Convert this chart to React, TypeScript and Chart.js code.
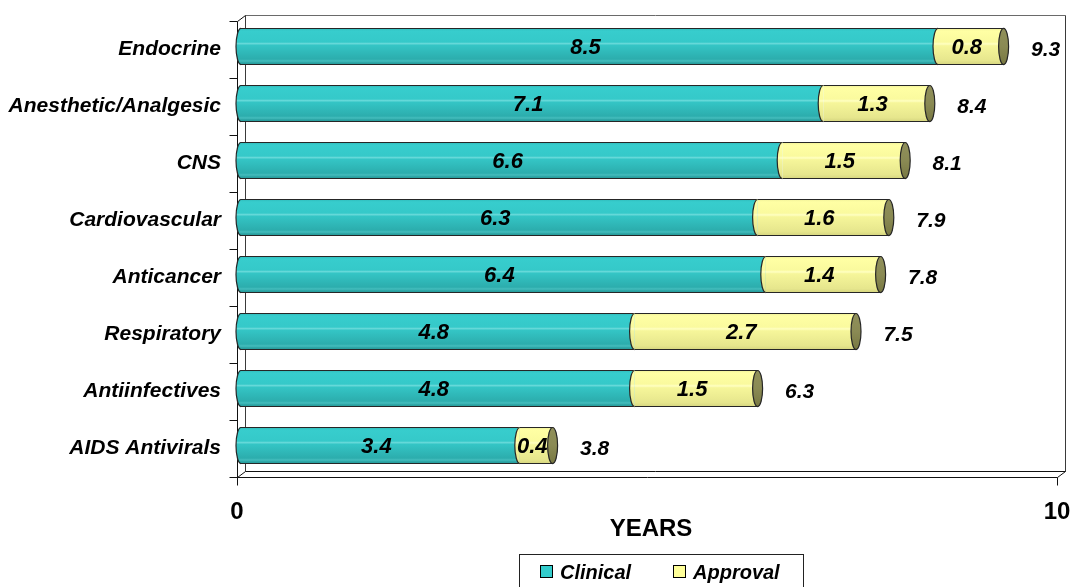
import React, { useEffect, useRef } from 'react';
import { Chart, registerables } from 'chart.js';

Chart.register(...registerables);

// ---------- data ----------
const categories = [
  'Endocrine',
  'Anesthetic/Analgesic',
  'CNS',
  'Cardiovascular',
  'Anticancer',
  'Respiratory',
  'Antiinfectives',
  'AIDS Antivirals',
];
const clinical = [8.5, 7.1, 6.6, 6.3, 6.4, 4.8, 4.8, 3.4];
const approval = [0.8, 1.3, 1.5, 1.6, 1.4, 2.7, 1.5, 0.4];
const totals = [9.3, 8.4, 8.1, 7.9, 7.8, 7.5, 6.3, 3.8];
const xTickValues = [0, 10];
const seriesLabels = ['Clinical', 'Approval'];
const axisTitle = 'YEARS';

// ---------- styling ----------
const FONT = "'Liberation Sans', Arial, Helvetica, sans-serif";
const DX = 4; // half depth of the 3D effect (x)
const DY = 3; // half depth of the 3D effect (y)
const BAR_PCT = 0.65;
const RX = 5; // cylinder ellipse x-radius
const LEGEND_COLORS = ['#33CCCC', '#FFFF99'];

const TEAL_STOPS: [number, string][] = [
  [0, '#2FB8B8'],
  [0.08, '#37CDCD'],
  [0.38, '#35C9C9'],
  [0.42, '#66D9D9'],
  [0.47, '#34C5C5'],
  [0.84, '#2CADAD'],
  [0.89, '#44BDBD'],
  [0.94, '#2AA3A3'],
  [1, '#269696'],
];
const YELLOW_STOPS: [number, string][] = [
  [0, '#EEEE96'],
  [0.08, '#FFFFA4'],
  [0.38, '#FAFA9E'],
  [0.43, '#FFFFC2'],
  [0.48, '#F6F69A'],
  [0.88, '#E6E68D'],
  [1, '#D4D47E'],
];

function gradientFill(stops: [number, string][], fallback: string) {
  return (ctx: any) => {
    const chart = ctx.chart;
    const ys = chart.scales && chart.scales.y;
    if (!chart.chartArea || !ys || ctx.dataIndex == null) return fallback;
    const c = ys.getPixelForValue(ctx.dataIndex);
    const half = ((chart.chartArea.bottom - chart.chartArea.top) / categories.length) * BAR_PCT / 2;
    const g = chart.ctx.createLinearGradient(0, c - half, 0, c + half);
    stops.forEach(([o, col]) => g.addColorStop(o, col));
    return g;
  };
}

const px = (v: number) => Math.round(v) + 0.5;

function line(ctx: CanvasRenderingContext2D, x1: number, y1: number, x2: number, y2: number) {
  ctx.beginPath();
  ctx.moveTo(x1, y1);
  ctx.lineTo(x2, y2);
  ctx.stroke();
}

const threeDPlugin = {
  id: 'threeD',
  beforeDatasetsDraw(chart: any) {
    const { ctx, chartArea: a } = chart;
    const fL = px(a.left - DX), fR = px(a.right - DX), fT = px(a.top + DY), fB = px(a.bottom + DY);
    const bL = px(a.left + DX), bR = px(a.right + DX), bT = px(a.top - DY), bB = px(a.bottom - DY);
    ctx.save();
    ctx.lineWidth = 1;
    // back wall
    ctx.strokeStyle = '#6a6a6a';
    line(ctx, bL, bT, bR, bT);
    ctx.strokeStyle = '#3a3a3a';
    line(ctx, bR, bT, bR, bB);
    line(ctx, bL, bT, bL, bB);
    // floor
    ctx.strokeStyle = '#111';
    line(ctx, bL, bB, bR, bB);
    line(ctx, fL, fB, fR, fB);
    line(ctx, fL, fB, bL, bB);
    line(ctx, fR, fB, bR, bB);
    // front category axis line
    line(ctx, fL, fT, fL, fB);
    line(ctx, fL, fT, bL, bT);
    // category tick marks
    const step = (a.bottom - a.top) / categories.length;
    for (let i = 0; i <= categories.length; i++) {
      const y = px(a.top + DY + i * step);
      line(ctx, fL - 8, y, fL, y);
    }
    // x tick marks
    const xs = chart.scales.x;
    xTickValues.forEach((v) => {
      const x = px(xs.getPixelForValue(v) - DX);
      line(ctx, x, fB, x, fB + 8);
    });
    ctx.restore();
  },
  afterDatasetsDraw(chart: any) {
    const { ctx } = chart;
    const n = chart.data.datasets.length;
    ctx.save();
    ctx.lineWidth = 1.2;
    ctx.strokeStyle = '#262626';
    // left ends of every segment (elliptical edges)
    for (let d = 0; d < n; d++) {
      const meta = chart.getDatasetMeta(d);
      meta.data.forEach((el: any) => {
        const { y, base, height } = el.getProps(['y', 'base', 'height'], true);
        const half = height / 2;
        ctx.beginPath();
        ctx.ellipse(base, y, RX, half, 0, Math.PI / 2, Math.PI * 1.5);
        ctx.closePath();
        ctx.fillStyle = el.options.backgroundColor;
        ctx.fill();
        ctx.beginPath();
        ctx.ellipse(base, y, RX, half - 0.5, 0, Math.PI / 2, Math.PI * 1.5);
        ctx.stroke();
      });
    }
    // right end caps of the last segment
    const lastMeta = chart.getDatasetMeta(n - 1);
    lastMeta.data.forEach((el: any) => {
      const { x, y, height } = el.getProps(['x', 'y', 'height'], true);
      const half = height / 2;
      const g = ctx.createLinearGradient(0, y - half, 0, y + half);
      g.addColorStop(0, '#90905A');
      g.addColorStop(0.5, '#8A8A54');
      g.addColorStop(1, '#787842');
      ctx.beginPath();
      ctx.ellipse(x, y, RX, half - 0.5, 0, 0, Math.PI * 2);
      ctx.fillStyle = g;
      ctx.fill();
      ctx.stroke();
    });
    // value labels inside segments
    ctx.fillStyle = '#000';
    ctx.textAlign = 'center';
    ctx.textBaseline = 'middle';
    ctx.font = `italic bold 22px ${FONT}`;
    for (let d = 0; d < n; d++) {
      const meta = chart.getDatasetMeta(d);
      const data = chart.data.datasets[d].data as number[];
      meta.data.forEach((el: any, i: number) => {
        const { x, y, base } = el.getProps(['x', 'y', 'base'], true);
        ctx.fillText(data[i].toFixed(1), (x + base) / 2 - 4, y + 1);
      });
    }
    // totals to the right
    ctx.font = `italic bold 21px ${FONT}`;
    lastMeta.data.forEach((el: any, i: number) => {
      const { x, y } = el.getProps(['x', 'y'], true);
      ctx.fillText(totals[i].toFixed(1), x + 42, y + 4);
    });
    ctx.restore();
  },
  afterDraw(chart: any) {
    const { ctx } = chart;
    const xs = chart.scales.x;
    ctx.save();
    ctx.fillStyle = '#000';
    // x tick labels (front plane)
    ctx.font = `bold 24px ${FONT}`;
    ctx.textAlign = 'center';
    ctx.textBaseline = 'alphabetic';
    xTickValues.forEach((v) => {
      ctx.fillText(String(v), xs.getPixelForValue(v) - DX, 519);
    });
    // legend
    ctx.lineWidth = 1;
    ctx.strokeStyle = '#222';
    ctx.strokeRect(519.5, 554.5, 284, 60);
    const itemX = [540, 673];
    ctx.font = `italic bold 20px ${FONT}`;
    ctx.textAlign = 'left';
    chart.data.datasets.forEach((ds: any, i: number) => {
      const x = itemX[i];
      ctx.fillStyle = LEGEND_COLORS[i];
      ctx.fillRect(x + 0.5, 565.5, 12, 12);
      ctx.strokeStyle = '#000';
      ctx.strokeRect(x + 0.5, 565.5, 12, 12);
      ctx.fillStyle = '#000';
      ctx.fillText(ds.label, x + 20, 579);
    });
    ctx.restore();
  },
};

export default function App() {
  const canvasRef = useRef<HTMLCanvasElement | null>(null);

  useEffect(() => {
    const canvas = canvasRef.current;
    if (!canvas) return;
    const chart = new Chart(canvas, {
      type: 'bar',
      data: {
        labels: categories,
        datasets: [
          {
            label: seriesLabels[0],
            data: clinical,
            backgroundColor: gradientFill(TEAL_STOPS, LEGEND_COLORS[0]) as any,
            borderColor: '#262626',
            borderWidth: { top: 1, bottom: 1, left: 0, right: 0 } as any,
            borderSkipped: false,
            barPercentage: BAR_PCT,
            categoryPercentage: 1,
          },
          {
            label: seriesLabels[1],
            data: approval,
            backgroundColor: gradientFill(YELLOW_STOPS, LEGEND_COLORS[1]) as any,
            borderColor: '#262626',
            borderWidth: { top: 1, bottom: 1, left: 0, right: 0 } as any,
            borderSkipped: false,
            barPercentage: BAR_PCT,
            categoryPercentage: 1,
          },
        ],
      },
      options: {
        indexAxis: 'y',
        responsive: false,
        animation: false,
        devicePixelRatio: 1,
        layout: { padding: { left: 0, right: 11, top: 18, bottom: 0 } },
        plugins: {
          legend: { display: false },
          tooltip: { enabled: false },
        },
        scales: {
          x: {
            stacked: true,
            min: xTickValues[0],
            max: xTickValues[xTickValues.length - 1],
            afterBuildTicks: (s: any) => {
              s.ticks = xTickValues.map((v) => ({ value: v }));
            },
            grid: { display: false, drawTicks: false },
            border: { display: false },
            ticks: { display: false },
            title: {
              display: true,
              text: axisTitle,
              color: '#000',
              font: { family: FONT, size: 24, weight: 'bold' },
              padding: { top: 0, bottom: 43 },
            },
            afterFit: (s: any) => {
              s.height = 113;
            },
          },
          y: {
            stacked: true,
            grid: { display: false, drawTicks: true, tickLength: 20 },
            border: { display: false },
            ticks: {
              padding: 0,
              labelOffset: DY,
              autoSkip: false,
              color: '#000',
              font: { family: FONT, size: 21, weight: 'bold', style: 'italic' },
            },
            afterFit: (s: any) => {
              s.width = 241;
            },
          },
        },
      } as any,
      plugins: [threeDPlugin],
    });
    return () => chart.destroy();
  }, []);

  return (
    <div style={{ position: 'fixed', left: 0, top: 0, width: 1072, height: 587, background: '#fff' }}>
      <canvas ref={canvasRef} width={1072} height={587} style={{ display: 'block' }} />
    </div>
  );
}
